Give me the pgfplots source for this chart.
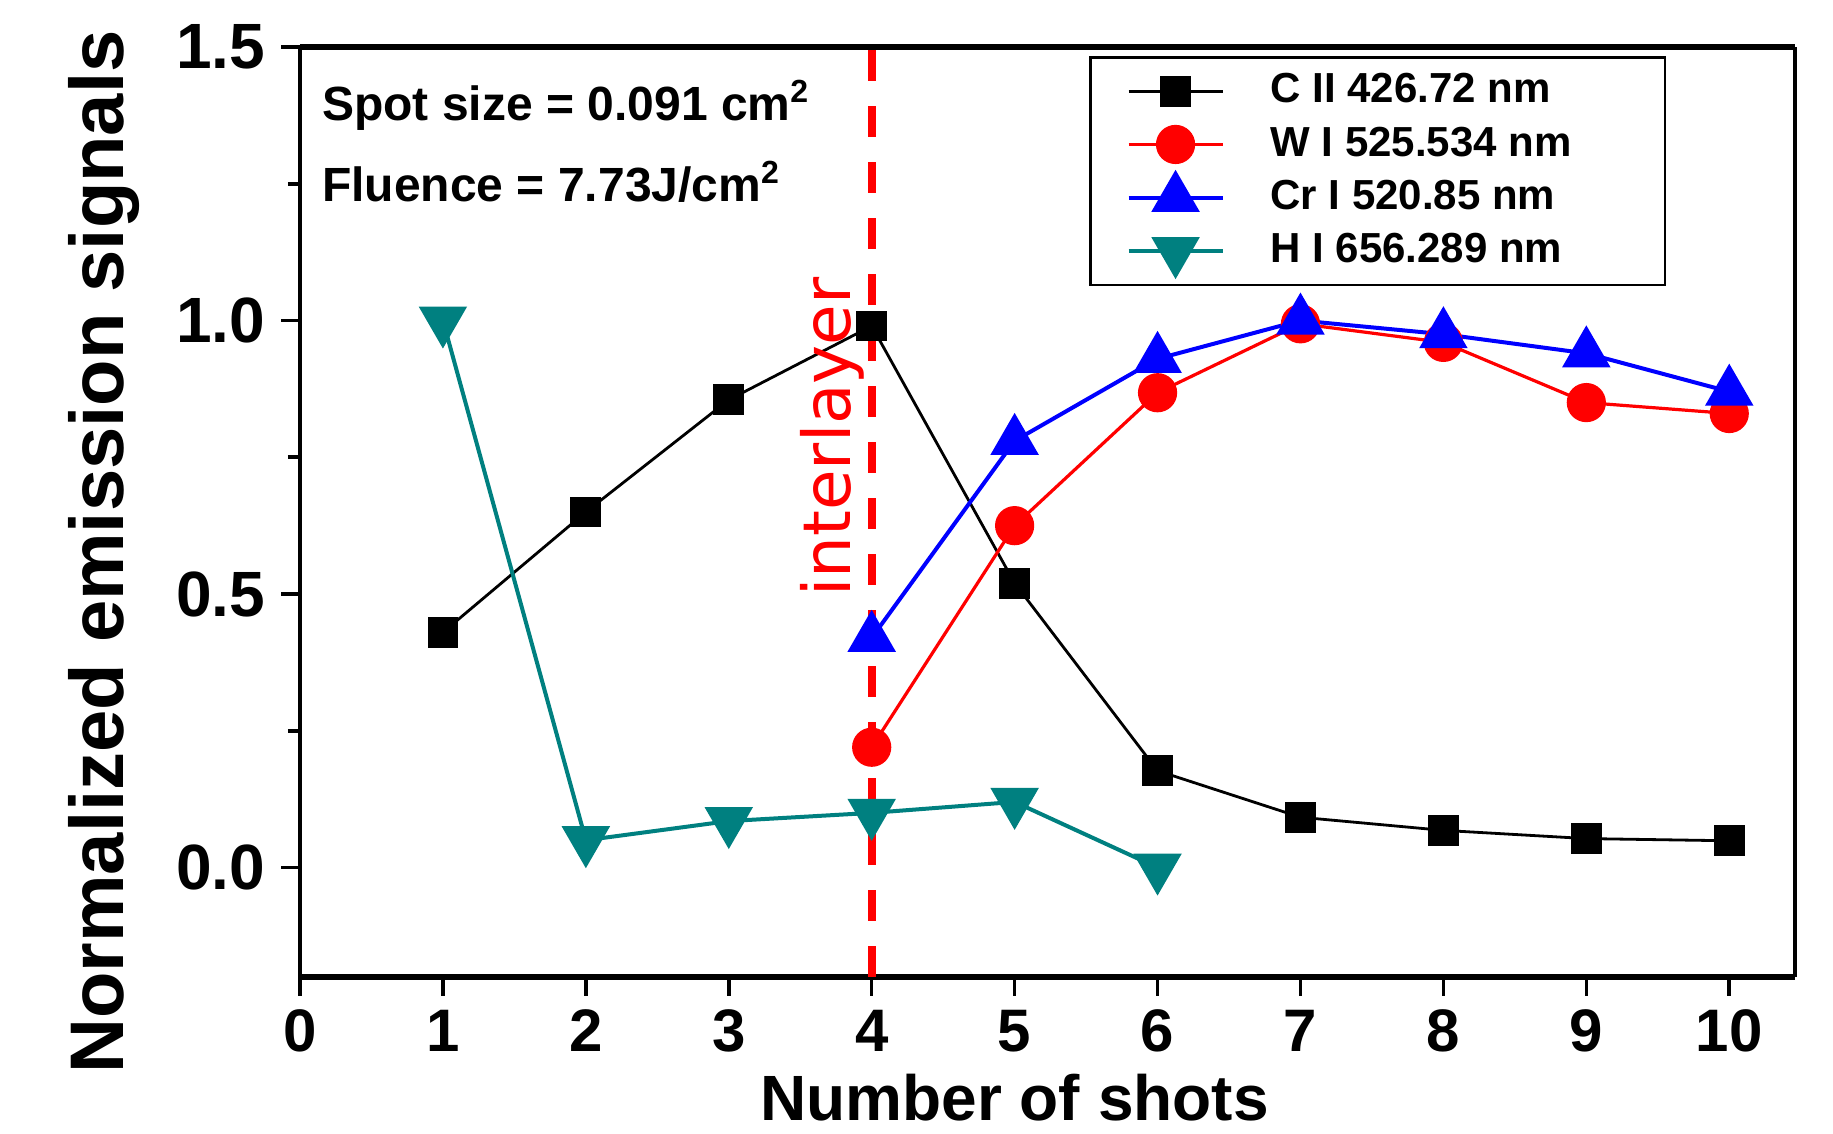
\documentclass[border=0pt]{standalone}
\usepackage{fontspec}
\setmainfont{Liberation Sans}
\newfontfamily\djv{DejaVu Sans}
\usepackage{pgfplots}
\pgfplotsset{compat=1.18}
\definecolor{tealc}{RGB}{0,128,128}
\begin{document}
\begin{tikzpicture}
\begin{axis}[name=ax, scale only axis, width=373.75pt, height=232.5pt,
  xmin=0, xmax=10.46, ymin=-0.2, ymax=1.5,
  xtick={0,1,...,10}, ytick={0,0.5,1,1.5}, minor ytick={0.25,0.75,1.25},
  xtick pos=bottom, ytick pos=left, tick align=outside,
  major tick length=4.7pt, minor tick length=3pt,
  every tick/.style={black, line width=0.9pt},
  separate axis lines,
  axis line style={line width=0.8pt},
  every outer x axis line/.append style={line width=1.6pt},
  /pgf/number format/assume math mode=true,
  yticklabel style={/pgf/number format/fixed, /pgf/number format/fixed zerofill, /pgf/number format/precision=1, font=\bfseries\fontsize{16}{19}\selectfont, xshift=-0.5pt},
  xticklabel style={font=\bfseries\fontsize{15}{18}\selectfont},
  xlabel={Number of shots},
  ylabel={Normalized emission signals},
  xlabel style={at={(rel axis cs:0.478,-0.1538)}, anchor=base, font=\bfseries\fontsize{16}{19}\selectfont},
  ylabel style={at={(rel axis cs:-0.118,0.457)}, anchor=base, font=\bfseries\fontsize{19}{22}\selectfont},
  clip=false,
  legend style={at={(rel axis cs:0.528,0.99)}, anchor=north west, draw=black, line width=0.6pt,
    font=\bfseries\fontsize{10.5}{12}\selectfont, row sep=0.5pt, inner xsep=3pt, inner ysep=2pt},
  legend cell align=left,
  legend image code/.code={\path (0pt,0pt); \draw[mark repeat=2,mark phase=2] plot coordinates {(6pt,0pt) (17.75pt,0pt) (29.5pt,0pt)};},
]
\addplot[black, line width=0.7pt, mark=square*, mark size=3.5pt, mark options={solid}] coordinates {
(1,0.43) (2,0.65) (3,0.855) (4,0.99) (5,0.52) (6,0.177) (7,0.092) (8,0.068) (9,0.053) (10,0.049)};
\addlegendentry{\hspace{9.5pt}\makebox[93.6pt][l]{C II 426.72 nm}}
\addplot[red, line width=0.8pt, mark=*, mark size=4.5pt] coordinates {
(4,0.22) (5,0.625) (6,0.868) (7,0.994) (8,0.96) (9,0.85) (10,0.83)};
\addlegendentry{\hspace{9.5pt}\makebox[93.6pt][l]{W I 525.534 nm}}
\addplot[blue, line width=1pt, mark=triangle*, mark size=6pt] coordinates {
(4,0.42) (5,0.78) (6,0.93) (7,1.0) (8,0.975) (9,0.94) (10,0.87)};
\addlegendentry{\hspace{9.5pt}\makebox[93.6pt][l]{Cr I 520.85 nm}}
\addplot[tealc, line width=1pt, mark=triangle*, mark size=6pt, mark options={rotate=180}] coordinates {
(1,1.0) (2,0.05) (3,0.085) (4,0.1) (5,0.12) (6,0.0)};
\addlegendentry{\hspace{9.5pt}\makebox[93.6pt][l]{H I 656.289 nm}}
\draw[red, line width=2pt, dash pattern=on 7.8pt off 6.2pt] (axis cs:4,-0.2) -- (axis cs:4,1.5);
\node[rotate=90, anchor=base, text=red, font=\djv\fontsize{16.5}{18}\selectfont, inner sep=0pt] at (axis cs:3.85,0.787) {interlayer};
\node[anchor=base west, inner sep=0pt, font=\bfseries\fontsize{12}{14}\selectfont] at (axis cs:0.15,1.366) {Spot size = 0.091 cm\textsuperscript{2}};
\node[anchor=base west, inner sep=0pt, font=\bfseries\fontsize{12}{14}\selectfont] at (axis cs:0.15,1.218) {Fluence = 7.73J/cm\textsuperscript{2}};
\end{axis}
\path ([shift={(-75pt,-39.25pt)}]ax.south west) rectangle ([shift={(9.5pt,11.75pt)}]ax.north east);
\end{tikzpicture}
\end{document}
